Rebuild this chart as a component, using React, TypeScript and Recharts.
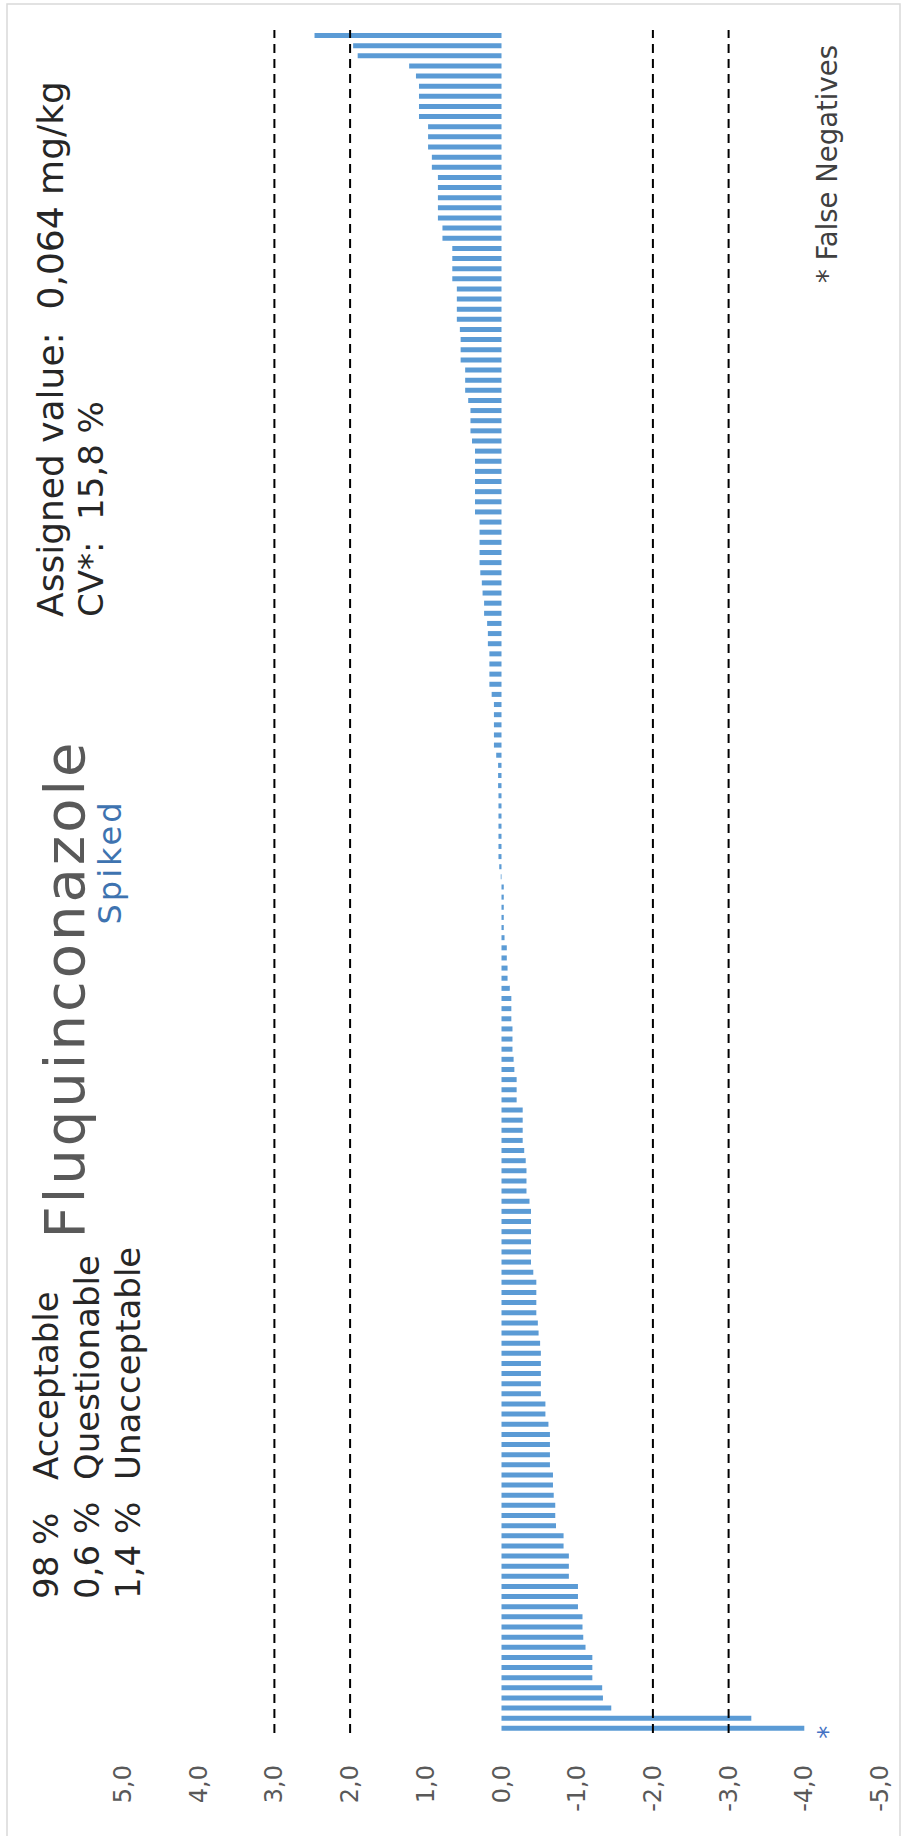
import { BarChart, Bar, XAxis, YAxis, ReferenceLine, LabelList } from "recharts";

const W = 905;
const H = 1836;
const FONT = "'DejaVu Sans', sans-serif";

// z-scores per lab, in the order drawn from top to bottom
const zScores = [
  2.47, 1.96, 1.9, 1.22, 1.13, 1.09, 1.09, 1.09, 1.09, 0.97,
  0.97, 0.97, 0.92, 0.92, 0.84, 0.84, 0.84, 0.84, 0.84, 0.78,
  0.78, 0.65, 0.65, 0.65, 0.65, 0.59, 0.59, 0.59, 0.59, 0.55,
  0.54, 0.54, 0.54, 0.48, 0.48, 0.48, 0.44, 0.41, 0.41, 0.41,
  0.39, 0.35, 0.35, 0.35, 0.35, 0.35, 0.35, 0.35, 0.29, 0.29,
  0.29, 0.29, 0.29, 0.28, 0.26, 0.25, 0.23, 0.23, 0.19, 0.18,
  0.18, 0.16, 0.16, 0.16, 0.16, 0.13, 0.1, 0.1, 0.1, 0.1,
  0.1, 0.07, 0.045, 0.045, 0.045, 0.04, 0.04, 0.04, 0.04, 0.04,
  0.04, 0.04, 0.03, 0.01, -0.03, -0.03, -0.03, -0.03, -0.03, -0.04,
  -0.07, -0.07, -0.08, -0.08, -0.11, -0.13, -0.13, -0.13, -0.145, -0.145,
  -0.145, -0.16, -0.17, -0.2, -0.2, -0.2, -0.28, -0.28, -0.28, -0.28,
  -0.3, -0.32, -0.33, -0.33, -0.33, -0.37, -0.39, -0.39, -0.39, -0.39,
  -0.39, -0.39, -0.42, -0.46, -0.46, -0.46, -0.46, -0.48, -0.49, -0.51,
  -0.52, -0.52, -0.52, -0.52, -0.52, -0.58, -0.58, -0.62, -0.64, -0.64,
  -0.64, -0.64, -0.68, -0.68, -0.69, -0.71, -0.71, -0.72, -0.82, -0.82,
  -0.89, -0.89, -0.89, -1.01, -1.01, -1.01, -1.07, -1.07, -1.08, -1.11,
  -1.2, -1.2, -1.2, -1.33, -1.34, -1.45, -3.3, -4.0,
];

// positions (index into zScores) marked as false negatives
const falseNegatives = [167];

const valueTicks = [5, 4, 3, 2, 1, 0, -1, -2, -3, -4, -5];
const limitLines = [3, 2, -2, -3];

const statPercents = ["98 %", "0,6 %", "1,4 %"];
const statLabels = ["Acceptable", "Questionable", "Unacceptable"];

const data = zScores.map((z, i) => ({
  lab: `Lab ${i + 1}`,
  z,
  flag: falseNegatives.includes(i) ? "*" : "",
}));

const fmt = (v: number) => v.toFixed(1).replace(".", ",");

const ValueTick = (props: any) => {
  const { x, y, payload } = props;
  const ty = y + 24;
  return (
    <text
      x={x}
      y={ty}
      transform={`rotate(-90, ${x}, ${ty})`}
      textAnchor="end"
      dominantBaseline="central"
      fill="#595959"
      fontSize={24}
      fontFamily={FONT}
    >
      {fmt(payload.value)}
    </text>
  );
};

const StarLabel = (p: any) => {
  if (!p.value) return null;
  const vb = p.viewBox ?? p;
  const x = Number(vb.x);
  const w = Number(vb.width);
  const y = Number(vb.y);
  const h = Number(vb.height);
  const cx = Math.max(x, x + w) + 24;
  const cy = y + h / 2 + 4;
  return (
    <text
      x={cx}
      y={cy}
      transform={`rotate(-90, ${cx}, ${cy})`}
      textAnchor="middle"
      dominantBaseline="central"
      fill="#4472C4"
      fontSize={26}
      fontFamily={FONT}
    >
      *
    </text>
  );
};

function RotText({
  x,
  y,
  size,
  color = "#262626",
  anchor = "start",
  spacing = 0,
  children,
}: {
  x: number;
  y: number;
  size: number;
  color?: string;
  anchor?: "start" | "middle" | "end";
  spacing?: number;
  children: string;
}) {
  return (
    <text
      x={x}
      y={y}
      transform={`rotate(-90, ${x}, ${y})`}
      textAnchor={anchor}
      fontSize={size}
      fill={color}
      fontFamily={FONT}
      letterSpacing={spacing}
      style={{ whiteSpace: "pre" }}
    >
      {children}
    </text>
  );
}

export default function App() {
  return (
    <div
      style={{
        position: "absolute",
        left: 0,
        top: 0,
        width: W,
        height: H,
        background: "#fff",
        overflow: "hidden",
      }}
    >
      <BarChart
        width={W}
        height={H}
        data={data}
        layout="vertical"
        margin={{ top: 30, right: 25, bottom: 0, left: 123 }}
      >
        <XAxis
          type="number"
          domain={[-5, 5]}
          ticks={valueTicks}
          interval={0}
          reversed
          axisLine={false}
          tickLine={false}
          height={103}
          tick={ValueTick}
        />
        <YAxis type="category" dataKey="lab" hide width={0} />
        <Bar dataKey="z" fill="#5B9BD5" barSize={5} isAnimationActive={false}>
          <LabelList dataKey="flag" content={StarLabel} />
        </Bar>
        {limitLines.map((v) => (
          <ReferenceLine
            key={v}
            x={v}
            stroke="#000"
            strokeWidth={2}
            strokeDasharray="9 6"
          />
        ))}
      </BarChart>

      <svg
        width={W}
        height={H}
        style={{ position: "absolute", left: 0, top: 0, pointerEvents: "none" }}
      >
        <rect x={7} y={4} width={893} height={1900} fill="none" stroke="#D9D9D9" strokeWidth={1.5} />

        <RotText x={63} y={617} size={36}>{"Assigned value:  0,064 mg/kg"}</RotText>
        <RotText x={103} y={617} size={34}>{"CV*:  15,8 %"}</RotText>

        <RotText x={84} y={989} size={56} spacing={3} color="#595959" anchor="middle">
          Fluquinconazole
        </RotText>
        <RotText x={121} y={862} size={32} spacing={3} color="#3E73B0" anchor="middle">
          Spiked
        </RotText>

        {statPercents.map((p, i) => (
          <RotText key={p} x={58 + i * 41} y={1599} size={34}>{p}</RotText>
        ))}
        {statLabels.map((l, i) => (
          <RotText key={l} x={58 + i * 41} y={1480} size={34}>{l}</RotText>
        ))}

        <RotText x={837} y={283} size={27.5} color="#404040">
          {"* False Negatives"}
        </RotText>
      </svg>
    </div>
  );
}
